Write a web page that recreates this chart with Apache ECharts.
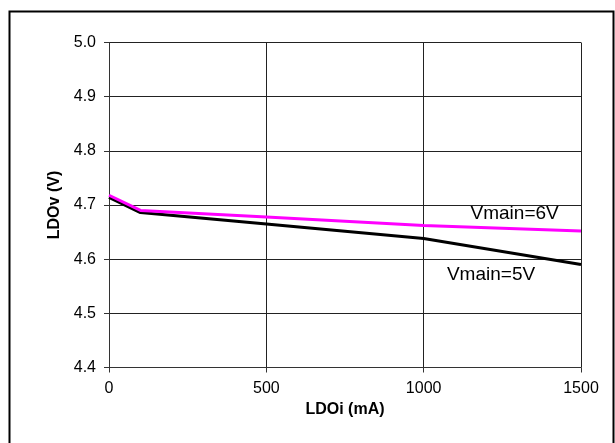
<!DOCTYPE html>
<html>
<head>
<meta charset="utf-8">
<script src="https://cdn.jsdelivr.net/npm/echarts@6/dist/echarts.min.js"></script>
<style>
html,body{margin:0;padding:0;background:#fff;}
#c{width:615px;height:443px;}
</style>
</head>
<body>
<div id="c"></div>
<script>
var xValues = [0, 100, 500, 1000, 1500];
var vmain6 = [4.718, 4.690, 4.678, 4.662, 4.652];
var vmain5 = [4.714, 4.686, 4.665, 4.638, 4.590];
var yTicks = [4.4, 4.5, 4.6, 4.7, 4.8, 4.9, 5.0];
var xTicks = [0, 500, 1000, 1500];
var label6 = {text: 'Vmain=6V', x: 1149, y: 4.683};
var label5 = {text: 'Vmain=5V', x: 1074, y: 4.571};

function pairs(xs, ys){ return xs.map(function(x,i){ return [x, ys[i]]; }); }

var font = 'Liberation Sans, Arial, sans-serif';
var chart = echarts.init(document.getElementById('c'), null, {renderer:'canvas'});
chart.setOption({
  animation: false,
  backgroundColor: '#fff',
  grid: {left: 109, right: 34, top: 42.5, bottom: 75.5, containLabel: false},
  graphic: [{
    type: 'rect', left: 7, top: 9, silent: true,
    shape: {width: 604, height: 445},
    style: {fill: 'none', stroke: '#000', lineWidth: 2}
  }],
  xAxis: {
    type: 'value', min: xTicks[0], max: xTicks[xTicks.length-1], interval: 500,
    name: 'LDOi (mA)', nameLocation: 'middle', nameGap: 31,
    nameTextStyle: {fontFamily: font, fontSize: 16, fontWeight: 'bold', color: '#000'},
    axisLine: {show: true, lineStyle: {color: '#333', width: 1}},
    axisTick: {show: true, length: 5, inside: false, lineStyle: {color: '#333'}},
    axisLabel: {fontFamily: font, fontSize: 16, color: '#000', margin: 13,
      formatter: function(v){ return String(v); }},
    splitLine: {show: true, lineStyle: {color: '#222', width: 1}}
  },
  yAxis: {
    type: 'value', min: yTicks[0], max: yTicks[yTicks.length-1], interval: 0.1,
    name: 'LDOv (V)', nameLocation: 'middle', nameGap: 46, nameRotate: 90,
    nameTextStyle: {fontFamily: font, fontSize: 16, fontWeight: 'bold', color: '#000'},
    axisLine: {show: true, lineStyle: {color: '#333', width: 1}},
    axisTick: {show: true, length: 5, inside: false, lineStyle: {color: '#333'}},
    axisLabel: {fontFamily: font, fontSize: 16, color: '#000', margin: 13,
      formatter: function(v){ return v.toFixed(1); }},
    splitLine: {show: true, lineStyle: {color: '#222', width: 1}}
  },
  series: [
    {
      type: 'line', name: 'Vmain=5V', data: pairs(xValues, vmain5),
      showSymbol: false, symbol: 'none',
      lineStyle: {color: '#000', width: 3},
      markPoint: {
        symbol: 'circle', symbolSize: 0,
        label: {show: true, position: 'right', distance: 0, formatter: label5.text,
          fontFamily: font, fontSize: 19, color: '#000'},
        data: [{coord: [label5.x, label5.y]}]
      }
    },
    {
      type: 'line', name: 'Vmain=6V', data: pairs(xValues, vmain6),
      showSymbol: false, symbol: 'none',
      lineStyle: {color: '#FF00FF', width: 3},
      markPoint: {
        symbol: 'circle', symbolSize: 0,
        label: {show: true, position: 'right', distance: 0, formatter: label6.text,
          fontFamily: font, fontSize: 19, color: '#000'},
        data: [{coord: [label6.x, label6.y]}]
      }
    }
  ]
});
</script>
</body>
</html>
